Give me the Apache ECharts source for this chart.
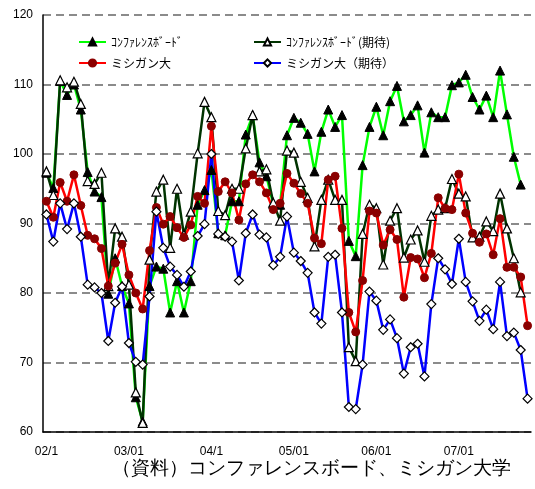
<!DOCTYPE html>
<html>
<head>
<meta charset="utf-8">
<script src="https://cdn.jsdelivr.net/npm/echarts@6/dist/echarts.min.js"></script>
<style>
html,body{margin:0;padding:0;background:#fff;}
#chart{width:535px;height:489px;}
</style>
</head>
<body>
<div id="chart"></div>
<script>
var categories = [
 '02/1','02/2','02/3','02/4','02/5','02/6','02/7','02/8','02/9','02/10','02/11','02/12',
 '03/01','03/02','03/03','03/04','03/05','03/06','03/07','03/08','03/09','03/10','03/11','03/12',
 '04/1','04/2','04/3','04/4','04/5','04/6','04/7','04/8','04/9','04/10','04/11','04/12',
 '05/01','05/02','05/03','05/04','05/05','05/06','05/07','05/08','05/09','05/10','05/11','05/12',
 '06/01','06/02','06/03','06/04','06/05','06/06','06/07','06/08','06/09','06/10','06/11','06/12',
 '07/01','07/02','07/03','07/04','07/05','07/06','07/07','07/08','07/09','07/10','07/11'
];
var seriesNames = ['ｺﾝﾌｧﾚﾝｽﾎﾞｰﾄﾞ', 'ｺﾝﾌｧﾚﾝｽﾎﾞｰﾄﾞ(期待)', 'ミシガン大', 'ミシガン大（期待）'];
var yTicks = [60, 70, 80, 90, 100, 110, 120];
var cb = [97.3,95.1,110.5,108.5,110.0,106.4,97.4,94.6,93.8,79.9,
          85.0,81.0,78.5,65.0,61.5,81.0,83.8,83.5,77.2,81.7,
          77.2,81.7,92.7,94.8,97.7,88.6,88.3,93.2,93.2,102.8,
          105.6,98.8,96.8,92.8,92.7,102.7,105.2,104.5,102.9,97.5,
          103.2,106.4,103.9,105.6,87.5,85.3,98.4,103.9,106.8,102.7,
          107.6,109.8,104.7,105.6,107.0,100.2,106.0,105.3,105.3,109.9,
          110.3,111.4,108.2,106.4,108.4,105.3,112.0,105.7,99.6,95.6];
var cbExp = [97.5,94.1,110.6,109.6,110.4,107.2,96.1,95.7,97.3,81.0,
             89.3,88.1,81.2,65.7,61.3,84.8,94.6,96.3,86.5,95.0,
             88.4,91.7,100.1,107.5,105.3,91.8,91.2,95.0,95.0,100.8,
             105.6,97.5,97.8,93.0,90.4,100.5,100.2,96.0,93.7,86.7,
             93.4,96.3,93.4,93.4,72.2,70.2,88.5,92.7,92.2,84.1,
             90.4,92.2,85.1,87.7,89.0,84.5,91.1,92.0,92.2,96.4,
             94.3,93.9,88.0,88.1,90.3,88.9,94.3,89.3,85.0,80.1];
var mich = [93.2,90.9,95.9,93.2,97.0,92.6,88.3,87.8,86.4,81.0,
            84.3,87.0,82.6,80.0,77.7,86.1,92.3,89.9,91.0,89.4,
            88.0,89.8,93.9,92.9,104.0,94.6,96.0,94.4,90.5,95.7,
            97.0,96.0,94.4,92.0,92.9,97.2,95.8,94.3,92.9,87.9,
            87.1,96.3,96.8,89.3,77.2,74.4,81.8,91.8,91.5,86.9,
            89.1,87.7,79.4,85.1,84.9,82.2,85.7,93.7,92.2,92.0,
            97.1,91.5,88.6,87.3,88.5,85.5,90.7,83.7,83.7,82.3,75.3];
var michExp = [91.3,87.4,92.9,89.2,92.9,88.1,81.2,80.8,80.0,73.1,
               78.6,80.9,72.8,70.1,69.7,79.5,91.7,86.5,83.8,82.6,
               80.9,83.1,88.2,89.9,100.0,88.5,88.1,87.4,81.8,88.6,
               91.3,88.4,88.0,84.0,85.2,91.0,85.8,84.6,82.9,77.2,
               75.6,85.2,85.5,77.2,63.6,63.3,69.7,80.2,78.9,74.7,
               76.2,73.5,68.4,72.2,72.7,68.0,78.4,85.0,83.4,81.3,
               87.8,81.6,78.8,76.0,77.6,74.8,81.6,73.8,74.3,71.8,64.8];
var sourceText = '（資料）コンファレンスボード、ミシガン大学';

var chart = echarts.init(document.getElementById('chart'), null, {renderer: 'canvas'});
var legendText = {fontSize: 12, color: '#000', fontFamily: '"Noto Sans CJK JP", sans-serif'};
function mkLegend(name, left, top) {
  return {data: [name], left: left, top: top, itemWidth: 27, itemHeight: 9, itemGap: 0,
          textStyle: legendText, padding: 0, selectedMode: false};
}
chart.setOption({
  animation: false,
  backgroundColor: '#fff',
  grid: {left: 43, right: 4, top: 15, bottom: 57, containLabel: false},
  legend: [
    mkLegend(seriesNames[0], 78, 36),
    mkLegend(seriesNames[1], 253, 36),
    mkLegend(seriesNames[2], 78, 57),
    mkLegend(seriesNames[3], 253, 57)
  ],
  xAxis: {
    type: 'category', data: categories, boundaryGap: true,
    axisLine: {lineStyle: {color: '#000', width: 1.5}},
    axisTick: {inside: true, interval: 2, length: 5, lineStyle: {color: '#000', width: 1}},
    axisLabel: {interval: 11, margin: 14, fontSize: 12, color: '#000', fontFamily: 'sans-serif'},
    splitLine: {show: false}
  },
  yAxis: {
    type: 'value', min: yTicks[0], max: yTicks[yTicks.length - 1], interval: 10,
    axisLine: {show: true, lineStyle: {color: '#000', width: 1.5}},
    axisTick: {show: false},
    axisLabel: {margin: 10, fontSize: 12, color: '#000', fontFamily: 'sans-serif'},
    splitLine: {show: true, lineStyle: {color: '#666', width: 1.5, type: [8, 5]}}
  },
  graphic: [{
    type: 'text', left: 112, top: 460,
    style: {text: sourceText, fontSize: 18.5, fill: '#000', fontFamily: 'serif'}
  }],
  series: [
    {name: seriesNames[0], type: 'line', data: cb, symbol: 'triangle', symbolSize: 9, showAllSymbol: true,
     lineStyle: {color: '#00ff00', width: 2.5}, itemStyle: {color: '#000', borderColor: '#000', borderWidth: 1}},
    {name: seriesNames[1], type: 'line', data: cbExp, symbol: 'triangle', symbolSize: 9, showAllSymbol: true,
     lineStyle: {color: '#003300', width: 2.5}, itemStyle: {color: '#fff', borderColor: '#000', borderWidth: 1.2}},
    {name: seriesNames[2], type: 'line', data: mich, symbol: 'circle', symbolSize: 8, showAllSymbol: true,
     lineStyle: {color: '#ff0000', width: 2.5}, itemStyle: {color: '#8b0000', borderColor: '#8b0000', borderWidth: 1}},
    {name: seriesNames[3], type: 'line', data: michExp, symbol: 'diamond', symbolSize: 9, showAllSymbol: true,
     lineStyle: {color: '#0000ff', width: 2.5}, itemStyle: {color: '#fff', borderColor: '#000', borderWidth: 1.2}}
  ]
});
</script>
</body>
</html>
